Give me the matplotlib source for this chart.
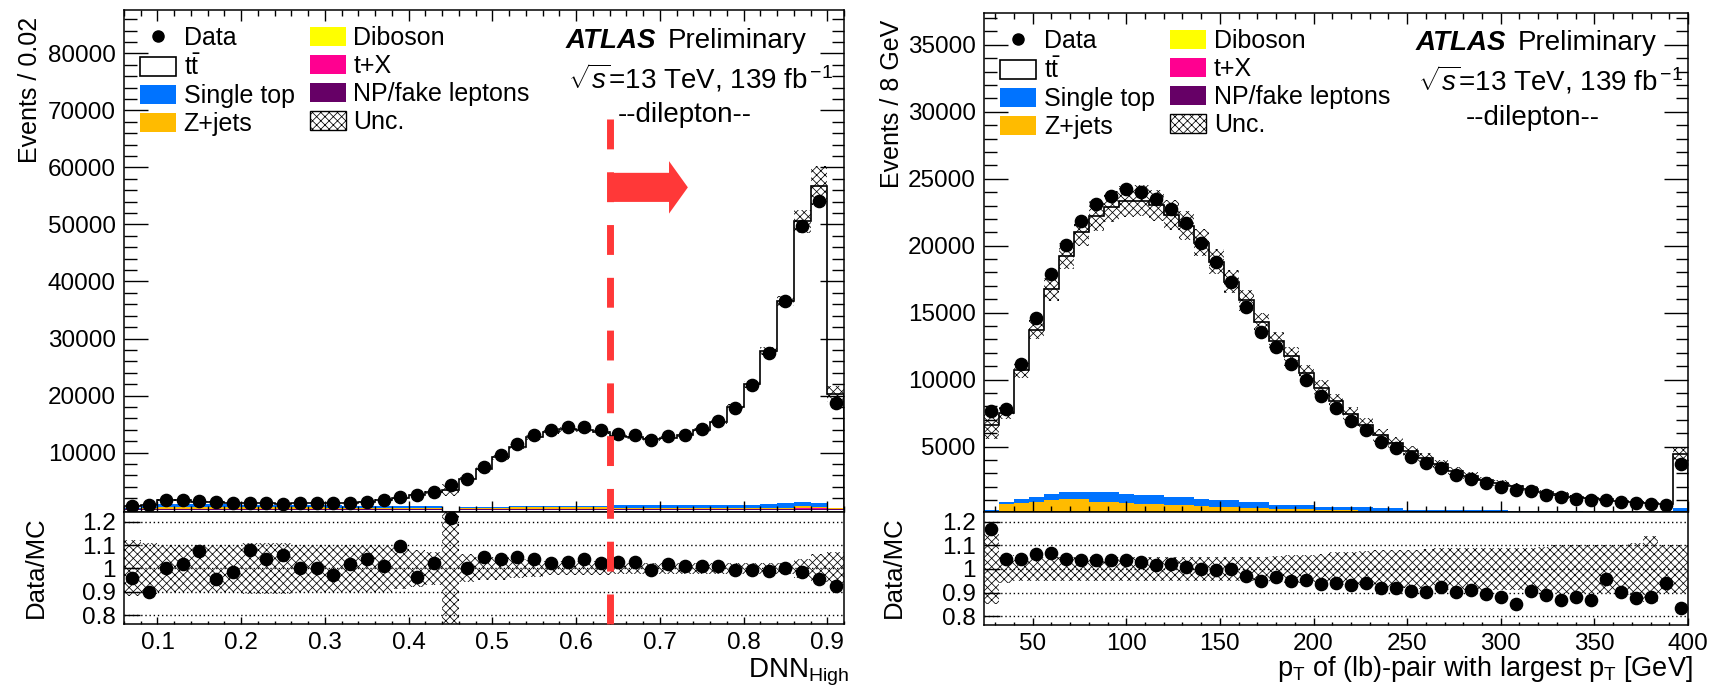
import numpy as np
import matplotlib
matplotlib.use("Agg")
import matplotlib.pyplot as plt
import matplotlib.transforms as mtransforms
from matplotlib.lines import Line2D
from matplotlib.patches import Patch, FancyArrow
from matplotlib.ticker import FixedLocator, MultipleLocator

plt.rcParams["font.family"] = ["Liberation Sans", "DejaVu Sans"]
plt.rcParams["mathtext.fontset"] = "custom"
plt.rcParams["mathtext.rm"] = "Liberation Sans"
plt.rcParams["mathtext.it"] = "Liberation Sans:italic"
plt.rcParams["mathtext.bf"] = "Liberation Sans:bold"
plt.rcParams["hatch.linewidth"] = 0.55

W, H = 1726, 691

# ---- DNN_High, 0.02 bins from 0.06 to 0.92 ----
dnn_edges = np.round(np.linspace(0.06, 0.92, 44), 3)
dnn_data = [600, 750, 1750, 1700, 1500, 1350, 1200, 1200, 1150, 950,
            1200, 1200, 1200, 1200, 1400, 1750, 2250, 2500, 3100, 4260,
            5440, 7470, 9530, 11580, 13150, 13910, 14500, 14500, 13910, 13330,
            13030, 12280, 12860, 13150, 14090, 15490, 17890, 21800, 27470, 36540,
            49700, 54090, 18700]
dnn_mc = [625, 833, 1750, 1667, 1395, 1417, 1218, 1111, 1103, 899,
          1200, 1200, 1237, 1179, 1346, 1733, 2053, 2593, 3027, 3506,
          5440, 7114, 9163, 11060, 12644, 13584, 14105, 13942, 13584, 12980,
          12675, 12367, 12608, 13020, 13950, 15337, 18016, 21954, 27747, 36540,
          50560, 56758, 20238]
dnn_singletop = [80, 350, 600, 600, 560, 520, 500, 480, 460, 440,
                 420, 400, 380, 360, 340, 330, 320, 310, 300, 0,
                 250, 200, 150, 150, 180, 200, 250, 250, 300, 500,
                 550, 550, 550, 550, 600, 600, 600, 650, 700, 800,
                 700, 650, 120]
dnn_zjets = [100, 250, 350, 350, 330, 320, 310, 300, 290, 280,
             270, 260, 250, 240, 230, 220, 210, 200, 180, 0,
             150, 200, 300, 350, 350, 350, 350, 350, 300, 150,
             150, 150, 150, 150, 150, 150, 150, 150, 200, 200,
             300, 150, 100]
dnn_diboson = [10, 30, 40, 40, 40, 40, 40, 40, 40, 40,
               40, 40, 40, 40, 40, 40, 40, 40, 40, 0,
               20, 20, 20, 20, 20, 20, 20, 20, 20, 20,
               20, 20, 20, 20, 20, 20, 20, 20, 30, 30,
               40, 40, 30]
dnn_tx = [10, 20, 30, 30, 30, 30, 30, 30, 30, 30,
          30, 30, 30, 30, 30, 30, 30, 30, 30, 0,
          20, 20, 20, 20, 20, 20, 30, 30, 30, 30,
          30, 30, 30, 30, 30, 30, 40, 40, 50, 60,
          200, 200, 60]
dnn_fakes = [20, 30, 40, 40, 40, 40, 40, 40, 40, 40,
             40, 40, 40, 40, 40, 40, 40, 40, 40, 0,
             20, 20, 20, 20, 20, 20, 20, 20, 20, 20,
             20, 20, 20, 20, 20, 20, 20, 20, 30, 30,
             40, 40, 30]
dnn_unc = [0.12, 0.11, 0.10, 0.10, 0.10, 0.10, 0.10, 0.11, 0.11, 0.11,
           0.10, 0.10, 0.10, 0.10, 0.10, 0.10, 0.09, 0.08, 0.07, 0.30,
           0.06, 0.05, 0.05, 0.04, 0.035, 0.03, 0.03, 0.03, 0.03, 0.025,
           0.025, 0.025, 0.025, 0.025, 0.025, 0.025, 0.025, 0.025, 0.025, 0.025,
           0.04, 0.06, 0.07]
dnn_cut = 0.64

# ---- pT of the (lb) pair, 8 GeV bins from 24 to 400 GeV ----
pt_edges = np.linspace(24, 400, 48)
pt_data = [7690, 7810, 11150, 14580, 17890, 20050, 21870, 23090, 23730, 24230,
           24030, 23460, 22740, 21720, 20220, 18760, 17310, 15450, 13580, 12460,
           11150, 9980, 8780, 7870, 6940, 6250, 5370, 4880, 4210, 3760,
           3390, 2890, 2590, 2270, 2020, 1770, 1690, 1400, 1270, 1100,
           1020, 1020, 850, 780, 700, 650, 3690]
pt_mc = [6584, 7488, 10690, 13729, 16735, 19223, 21049, 22223, 22905, 23321,
         23353, 23023, 22316, 21505, 20220, 18816, 17310, 15911, 14295, 12885,
         11737, 10461, 9390, 8372, 7454, 6649, 5850, 5299, 4647, 4169,
         3669, 3197, 2843, 2536, 2293, 2077, 1865, 1577, 1460, 1247,
         1172, 1066, 940, 891, 794, 691, 4419]
pt_singletop = [100, 180, 250, 370, 450, 530, 530, 700, 700, 630,
                680, 680, 620, 570, 500, 500, 480, 450, 430, 300,
                290, 290, 240, 250, 260, 260, 220, 240, 170, 170,
                170, 175, 180, 185, 190, 145, 150, 155, 160, 162,
                85, 88, 90, 92, 94, 95, 250]
pt_zjets = [120, 610, 710, 780, 900, 950, 890, 720, 720, 640,
            540, 550, 490, 495, 415, 380, 385, 315, 325, 220,
            225, 210, 205, 185, 170, 155, 120, 94, 60, 51,
            45, 38, 33, 31, 27, 24, 22, 20, 17, 16,
            15, 13, 13, 12, 10, 10, 120]
pt_diboson = [10, 60, 60, 70, 70, 70, 40, 40, 40, 40,
              40, 35, 35, 30, 30, 30, 25, 25, 25, 60,
              60, 60, 20, 20, 20, 18, 18, 16, 15, 14,
              13, 12, 11, 10, 10, 9, 8, 8, 7, 7,
              6, 6, 5, 5, 5, 5, 30]
pt_tx = [10, 20, 20, 20, 20, 20, 110, 110, 110, 110,
         110, 110, 100, 100, 100, 90, 90, 90, 80, 50,
         50, 45, 40, 40, 35, 35, 30, 30, 25, 25,
         22, 20, 18, 16, 15, 14, 12, 11, 10, 9,
         8, 7, 7, 6, 6, 5, 30]
pt_fakes = [10, 30, 30, 30, 30, 30, 30, 30, 30, 30,
            30, 25, 25, 25, 25, 20, 20, 20, 20, 20,
            15, 15, 15, 15, 15, 12, 12, 10, 10, 10,
            10, 10, 8, 8, 8, 8, 8, 6, 6, 6,
            6, 6, 5, 5, 5, 5, 20]
pt_unc = [0.15, 0.06, 0.05, 0.05, 0.05, 0.05, 0.05, 0.05, 0.05, 0.05,
          0.05, 0.05, 0.05, 0.05, 0.05, 0.05, 0.05, 0.05, 0.05, 0.055,
          0.06, 0.06, 0.065, 0.07, 0.07, 0.075, 0.08, 0.08, 0.08, 0.085,
          0.09, 0.09, 0.09, 0.09, 0.09, 0.09, 0.09, 0.095, 0.10, 0.10,
          0.10, 0.10, 0.10, 0.11, 0.14, 0.10, 0.10]

COLORS = {
    "Single top": "#0073ff",
    "Z+jets": "#ffbb00",
    "Diboson": "#ffff00",
    "t+X": "#ff0090",
    "NP/fake leptons": "#660066",
}
ARROW_RED = "#ff3838"
HATCH = "xxxx"
TICK_FS = 17.5


def px_box(x0, y0, x1, y1):
    return [x0 / W, 1 - y1 / H, (x1 - x0) / W, (y1 - y0) / H]


def draw_main(ax, edges, data, mc, components, unc):
    mc = np.asarray(mc, dtype=float)
    bottom = np.zeros(len(edges) - 1)
    for values, name in components:
        top = bottom + np.asarray(values, dtype=float)
        ax.stairs(top, edges, baseline=bottom, fill=True, color=COLORS[name], lw=0)
        bottom = top
    ax.stairs(mc, edges, baseline=bottom, fill=True, color="white", lw=0)
    ax.stairs(mc, edges, baseline=0, color="black", lw=1.2)
    rel = np.asarray(unc)
    ax.stairs(mc * (1 + rel), edges, baseline=mc * (1 - rel), fill=True,
              hatch=HATCH, facecolor="none", edgecolor="black", lw=0)
    centers = 0.5 * (edges[1:] + edges[:-1])
    ax.plot(centers, data, "o", color="black", ms=8.8, zorder=5)


def draw_ratio(ax, edges, data, mc, unc):
    rel = np.asarray(unc)
    ax.stairs(1 + rel, edges, baseline=1 - rel, fill=True,
              hatch=HATCH, facecolor="none", edgecolor="black", lw=0)
    for level in [0.8, 0.9, 1.0, 1.1, 1.2]:
        ax.axhline(level, color="black", lw=1.0, ls=(0, (1, 2)), zorder=3)
    centers = 0.5 * (edges[1:] + edges[:-1])
    ratio = np.asarray(data, dtype=float) / np.asarray(mc, dtype=float)
    ax.plot(centers, ratio, "o", color="black", ms=8.8, zorder=5)
    ax.set_ylim(0.762, 1.242)
    ax.yaxis.set_major_locator(FixedLocator([0.8, 0.9, 1.0, 1.1, 1.2]))
    ax.set_yticklabels(["0.8", "0.9", "1", "1.1", "1.2"])
    ax.tick_params(axis="y", which="major", direction="in", length=11.5, width=1.0,
                   labelsize=TICK_FS, pad=6)
    ax.tick_params(axis="x", which="both", direction="in", bottom=True, top=False,
                   width=1.0, labelsize=TICK_FS, pad=6)
    ax.tick_params(axis="x", which="major", length=5)
    ax.tick_params(axis="x", which="minor", length=2.5)
    ax.tick_params(axis="y", which="minor", left=False)


def style_main(ax, yticks, yminor):
    ax.yaxis.set_major_locator(FixedLocator(yticks))
    ax.yaxis.set_minor_locator(FixedLocator(yminor))
    ax.tick_params(axis="both", which="both", direction="in", top=True, right=True, width=1.0)
    ax.tick_params(axis="y", which="major", length=17, labelsize=TICK_FS, pad=6)
    ax.tick_params(axis="y", which="minor", length=9)
    ax.tick_params(axis="x", which="major", length=8, labelbottom=False)
    ax.tick_params(axis="x", which="minor", length=4.5)


def add_legend(ax, anchor):
    handles = [
        Line2D([], [], marker="o", color="black", ls="none", ms=8),
        Patch(facecolor="white", edgecolor="black", lw=1.2),
        Patch(facecolor=COLORS["Single top"], lw=0),
        Patch(facecolor=COLORS["Z+jets"], lw=0),
        Patch(facecolor=COLORS["Diboson"], lw=0),
        Patch(facecolor=COLORS["t+X"], lw=0),
        Patch(facecolor=COLORS["NP/fake leptons"], lw=0),
        Patch(facecolor="white", edgecolor="black", hatch=HATCH, lw=1.0),
    ]
    labels = ["Data", r"$\mathrm{t\bar{t}}$", "Single top", "Z+jets",
              "Diboson", "t+X", "NP/fake leptons", "Unc."]
    ax.legend(handles, labels, ncol=2, loc="upper left", bbox_to_anchor=anchor,
              frameon=False, fontsize=18, handlelength=1.45, handleheight=0.8,
              handletextpad=0.3, labelspacing=0.16, columnspacing=0.6,
              borderpad=0, borderaxespad=0)


def add_atlas_label(fig, x, y):
    fig.text(x / W, 1 - y / H, "ATLAS", fontsize=20, fontweight="bold",
             fontstyle="italic", va="center", ha="left")
    fig.text((x + 102) / W, 1 - y / H, "Preliminary", fontsize=20, va="center", ha="left")
    fig.text((x + 2) / W, 1 - (y + 37) / H, r"$\sqrt{s}$=13 TeV, 139 fb$^{\,\mathrm{-1}}$",
             fontsize=20, va="center", ha="left")


def main():
    fig = plt.figure(figsize=(W / 100, H / 100), dpi=100)
    fig.patch.set_facecolor("white")

    ax_l = fig.add_axes(px_box(124, 10, 844, 512))
    ax_lr = fig.add_axes(px_box(124, 512, 844, 624), sharex=ax_l)
    ax_r = fig.add_axes(px_box(984, 13, 1688, 512))
    ax_rr = fig.add_axes(px_box(984, 512, 1688, 625), sharex=ax_r)
    for ax in (ax_l, ax_lr, ax_r, ax_rr):
        for spine in ax.spines.values():
            spine.set_linewidth(1.1)

    dnn_bkg = [(dnn_fakes, "NP/fake leptons"), (dnn_tx, "t+X"), (dnn_diboson, "Diboson"),
               (dnn_zjets, "Z+jets"), (dnn_singletop, "Single top")]
    draw_main(ax_l, dnn_edges, dnn_data, dnn_mc, dnn_bkg, dnn_unc)
    ax_l.set_xlim(0.06, 0.92)
    ax_l.set_ylim(-420, 87600)
    style_main(ax_l, np.arange(10000, 80001, 10000), np.arange(2000, 87001, 2000))
    ax_l.xaxis.set_major_locator(MultipleLocator(0.1))
    ax_l.xaxis.set_minor_locator(MultipleLocator(0.02))
    draw_ratio(ax_lr, dnn_edges, dnn_data, dnn_mc, dnn_unc)

    pt_bkg = [(pt_fakes, "NP/fake leptons"), (pt_tx, "t+X"), (pt_diboson, "Diboson"),
              (pt_zjets, "Z+jets"), (pt_singletop, "Single top")]
    draw_main(ax_r, pt_edges, pt_data, pt_mc, pt_bkg, pt_unc)
    ax_r.set_xlim(24, 400)
    ax_r.set_ylim(120, 37370)
    style_main(ax_r, np.arange(5000, 35001, 5000), np.arange(1000, 37001, 1000))
    ax_r.xaxis.set_major_locator(MultipleLocator(50))
    ax_r.xaxis.set_minor_locator(MultipleLocator(10))
    draw_ratio(ax_rr, pt_edges, pt_data, pt_mc, pt_unc)

    add_legend(ax_l, (0.022, 0.968))
    add_legend(ax_r, (0.023, 0.968))

    add_atlas_label(fig, 566, 41)
    add_atlas_label(fig, 1416, 43)
    fig.text(685 / W, 1 - 115 / H, "--dilepton--", fontsize=20, ha="center", va="center")
    fig.text(1533 / W, 1 - 118 / H, "--dilepton--", fontsize=20, ha="center", va="center")

    # axis titles
    fig.text(30 / W, 1 - 17 / H, "Events / 0.02", rotation=90, fontsize=18, ha="center", va="top")
    fig.text(892 / W, 1 - 20 / H, "Events / 8 GeV", rotation=90, fontsize=18, ha="center", va="top")
    fig.text(36 / W, 1 - 567 / H, "Data/MC", rotation=90, fontsize=18.5, ha="center", va="center")
    fig.text(894 / W, 1 - 567 / H, "Data/MC", rotation=90, fontsize=18.5, ha="center", va="center")
    fig.text(849 / W, 1 - 677 / H, r"DNN$_{\mathrm{High}}$", fontsize=20, ha="right", va="baseline")
    fig.text(1693 / W, 1 - 676 / H,
             r"p$_{\mathrm{T}}$ of (lb)-pair with largest p$_{\mathrm{T}}$ [GeV]",
             fontsize=19.5, ha="right", va="baseline")

    # selection cut on the DNN output, running through both pads
    trans = mtransforms.blended_transform_factory(ax_l.transData, fig.transFigure)
    cut_line = Line2D([dnn_cut, dnn_cut], [1 - 119 / H, 1 - 624 / H], transform=trans,
                      color=ARROW_RED, lw=5, ls=(0, (4.3, 3.3)), zorder=20)
    fig.add_artist(cut_line)
    ax_l.add_patch(FancyArrow(dnn_cut, 56500, 0.0935, 0, width=5100, head_width=9200,
                              head_length=0.0225, length_includes_head=True,
                              color=ARROW_RED, lw=0, zorder=20))

    fig.savefig("out.png", dpi=100)
    plt.close(fig)


if __name__ == "__main__":
    main()
